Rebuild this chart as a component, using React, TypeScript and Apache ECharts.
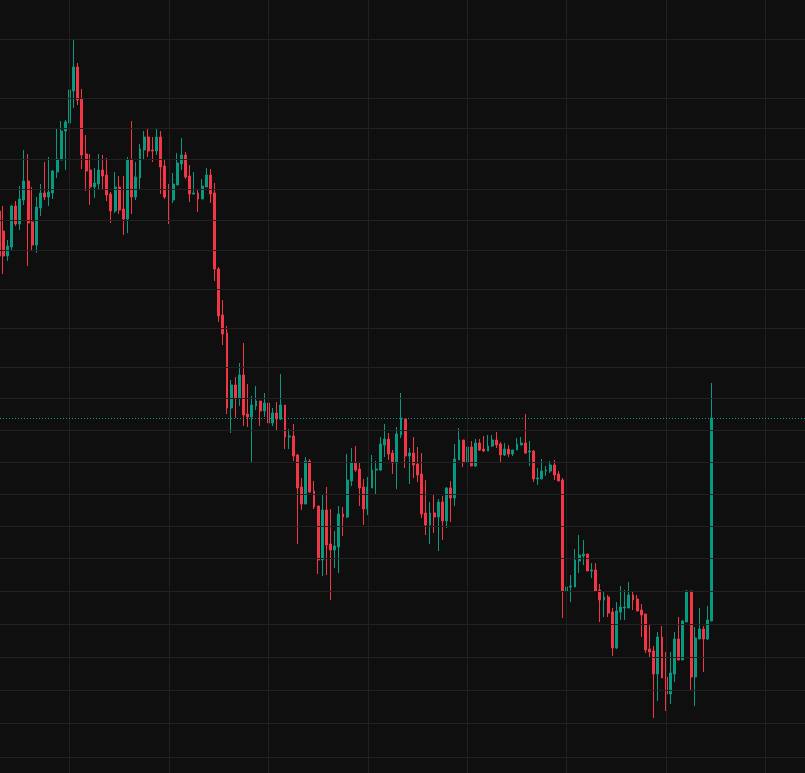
import { useEffect, useRef } from "react";
import * as echarts from "echarts";

// [open, close, low, high]
type Candle = [number, number, number, number];

const upColor = "#089981";
const downColor = "#F23645";

// price levels of the horizontal grid lines
const gridLevels: number[] = [
  76.1, 70.14, 67.18, 64.07, 61.11, 58.01, 54.95, 51.1, 47.21, 43.26, 40.21, 37.0,
  33.8, 30.59, 27.39, 24.18, 20.88, 17.57, 14.27, 10.97, 7.66, 4.26,
];

// bar slots that carry a vertical grid line
const gridColumns: number[] = [17, 41, 65, 89, 113, 137, 161, 185];

const lastPrice = 38.2;
const slotCount = 195;

const candles: Candle[] = [
  [58.9, 54.4, 54.0, 59.5], [56.9, 54.4, 52.6, 59.4], [54.4, 55.4, 53.9, 56.0], [55.3, 59.4, 55.0, 59.5],
  [59.4, 57.6, 57.4, 59.9], [57.6, 60.1, 57.0, 61.4], [60.0, 61.9, 59.5, 65.0], [61.9, 57.7, 53.4, 64.6],
  [57.8, 55.5, 54.9, 61.3], [55.5, 59.3, 54.7, 60.3], [59.2, 60.7, 58.4, 61.6], [60.7, 60.3, 60.0, 63.8],
  [60.3, 60.8, 59.4, 64.3], [60.7, 62.9, 60.1, 63.0], [62.8, 64.1, 62.2, 67.1], [64.0, 66.9, 64.0, 67.9],
  [66.9, 67.8, 63.0, 68.0], [67.7, 71.0, 65.8, 72.5], [70.9, 73.3, 69.2, 76.1], [73.3, 70.0, 69.5, 73.7],
  [70.1, 64.5, 63.1, 71.1], [64.6, 62.9, 60.9, 66.5], [63.0, 61.3, 59.5, 64.6], [61.3, 61.7, 60.2, 63.2],
  [61.6, 63.0, 61.0, 64.6], [63.0, 62.4, 61.1, 64.5], [62.5, 60.5, 59.9, 64.2], [60.6, 58.9, 57.7, 60.8],
  [58.9, 61.3, 58.7, 62.8], [61.3, 59.0, 58.6, 62.4], [59.1, 58.1, 56.5, 62.4], [58.1, 64.0, 56.7, 64.3],
  [64.0, 60.3, 58.6, 67.9], [60.3, 62.3, 60.0, 63.8], [62.2, 65.1, 61.1, 65.6], [65.0, 66.3, 64.0, 66.9],
  [66.3, 64.9, 64.3, 67.2], [65.0, 64.9, 63.8, 66.3], [64.9, 66.3, 64.5, 67.1], [66.3, 63.3, 60.6, 66.9],
  [63.4, 60.3, 60.1, 64.1], [60.4, 60.0, 57.6, 61.6], [60.0, 61.6, 59.7, 62.7], [61.5, 63.7, 61.5, 64.7],
  [63.6, 64.5, 63.0, 66.2], [64.5, 62.3, 62.1, 64.8], [62.4, 60.6, 59.8, 63.5], [60.6, 60.7, 60.6, 62.8],
  [60.7, 60.1, 58.8, 61.1], [60.1, 61.4, 60.1, 62.1], [61.3, 62.5, 61.3, 63.2], [62.5, 60.6, 59.7, 63.1],
  [60.7, 53.1, 51.9, 61.7], [53.1, 48.4, 47.8, 53.3], [48.5, 46.6, 45.5, 50.0], [46.7, 39.2, 38.6, 47.4],
  [39.2, 41.5, 36.7, 42.0], [41.5, 40.2, 38.2, 42.3], [40.2, 42.5, 39.4, 43.7], [42.5, 38.5, 37.4, 45.7],
  [38.6, 38.3, 37.3, 41.6], [38.3, 39.5, 33.8, 40.4], [39.4, 39.9, 39.0, 41.4], [39.9, 38.9, 37.4, 39.9],
  [38.9, 39.7, 38.3, 40.7], [39.7, 37.7, 37.6, 40.3], [37.7, 38.7, 37.4, 39.2], [38.7, 38.1, 37.0, 39.8],
  [38.1, 39.5, 38.0, 42.6], [39.5, 36.3, 35.1, 39.5], [36.3, 36.4, 35.1, 37.1], [36.4, 34.4, 33.9, 37.6],
  [34.5, 31.2, 25.6, 34.6], [31.3, 29.6, 29.0, 32.2], [29.6, 33.9, 29.6, 34.3], [33.9, 30.8, 30.7, 34.1],
  [30.9, 29.3, 29.1, 31.9], [29.4, 24.0, 22.6, 29.4], [24.0, 29.0, 22.4, 30.5], [29.0, 25.5, 22.5, 31.3],
  [25.6, 25.0, 20.0, 29.1], [25.0, 25.4, 23.2, 26.9], [25.3, 28.6, 22.7, 29.4], [28.6, 28.3, 26.4, 29.3],
  [28.3, 32.0, 28.2, 34.6], [31.9, 33.7, 31.4, 35.2], [33.7, 33.0, 32.8, 35.4], [33.1, 31.2, 29.4, 33.8],
  [31.3, 29.1, 27.5, 32.1], [29.1, 31.3, 28.5, 32.3], [31.2, 33.0, 31.2, 34.5], [33.0, 33.1, 30.5, 33.9],
  [33.0, 35.6, 32.9, 36.3], [35.5, 36.1, 34.3, 37.6], [36.1, 34.6, 34.0, 36.7], [34.7, 33.7, 32.6, 35.0],
  [33.7, 36.6, 31.1, 37.3], [36.5, 38.2, 36.2, 40.7], [38.1, 34.4, 33.2, 38.1], [34.4, 34.7, 31.6, 35.2],
  [34.7, 33.5, 32.2, 36.3], [33.6, 32.5, 31.8, 35.3], [32.6, 28.6, 28.2, 34.7], [28.7, 27.5, 26.5, 32.0],
  [27.5, 28.7, 25.6, 29.8], [28.7, 28.3, 26.7, 30.6], [28.3, 29.8, 24.9, 30.1], [29.8, 27.9, 26.0, 30.4],
  [27.9, 31.2, 27.2, 31.3], [31.2, 30.2, 27.8, 31.9], [30.2, 34.1, 29.4, 35.6], [34.0, 36.0, 34.0, 37.2],
  [36.0, 33.8, 33.3, 36.0], [33.8, 35.3, 33.6, 36.4], [35.3, 33.4, 33.4, 35.9], [33.4, 35.7, 33.3, 36.1],
  [35.7, 35.0, 34.9, 36.1], [35.1, 34.9, 34.8, 36.4], [34.9, 35.4, 34.9, 36.5], [35.4, 36.0, 35.3, 36.5],
  [36.0, 35.5, 35.2, 36.8], [35.6, 34.5, 33.8, 35.8], [34.5, 35.1, 34.4, 35.7], [35.1, 34.6, 34.3, 35.5],
  [34.6, 35.0, 34.4, 35.0], [35.0, 35.6, 35.0, 36.2], [35.5, 35.7, 35.5, 36.3], [35.7, 34.7, 34.6, 38.6],
  [34.8, 34.9, 33.4, 35.9], [34.9, 32.1, 31.8, 35.0], [32.1, 32.2, 31.5, 33.2], [32.1, 32.9, 32.1, 34.1],
  [32.9, 33.0, 32.4, 33.4], [32.9, 33.5, 32.7, 33.9], [33.5, 32.5, 32.0, 34.0], [32.6, 31.9, 31.9, 32.9],
  [32.0, 20.9, 18.2, 32.2], [20.9, 21.3, 15.4, 23.0], [21.3, 21.4, 19.8, 22.5], [21.3, 24.0, 21.3, 25.1],
  [23.9, 24.5, 22.7, 26.5], [24.4, 24.6, 23.5, 26.0], [24.6, 22.9, 22.9, 24.6], [22.9, 23.0, 22.2, 23.7],
  [23.0, 20.9, 20.8, 23.7], [21.0, 20.0, 17.8, 21.6], [20.0, 20.3, 18.3, 20.9], [20.3, 18.7, 18.3, 20.5],
  [18.8, 15.2, 14.4, 19.2], [15.2, 18.9, 15.1, 19.8], [18.8, 19.3, 18.0, 21.4], [19.2, 19.3, 18.0, 21.0],
  [19.2, 20.5, 19.2, 21.8], [20.5, 20.0, 19.0, 20.8], [20.1, 18.9, 18.9, 20.5], [19.0, 18.5, 16.3, 19.6],
  [18.6, 15.0, 14.7, 18.6], [15.1, 14.8, 14.2, 17.6], [14.9, 12.6, 8.2, 15.4], [12.6, 16.3, 9.9, 16.8],
  [16.3, 12.2, 12.2, 17.4], [12.3, 10.6, 8.9, 14.8], [10.6, 12.7, 9.6, 14.8], [12.6, 16.1, 11.8, 16.8],
  [16.1, 14.0, 14.0, 18.3], [14.0, 17.9, 14.0, 18.0], [17.8, 20.9, 17.8, 21.0], [20.9, 12.3, 11.0, 20.9],
  [12.3, 16.2, 9.4, 17.3], [16.1, 17.1, 16.1, 19.2], [17.1, 16.1, 12.8, 17.4], [16.1, 18.0, 16.0, 19.4],
  [17.9, 38.2, 17.9, 41.7],
];

const slots = Array.from({ length: slotCount }, (_, i) => String(i));

const App: React.FC = () => {
  const chartRef = useRef<HTMLDivElement>(null);

  useEffect(() => {
    document.body.style.margin = "0";
    document.body.style.background = "#0f0f0f";
    document.body.style.overflow = "hidden";
    const myChart = echarts.init(chartRef.current!, undefined, { renderer: "svg" });

    const gridLine = { color: "#212121", width: 1, type: "solid" as const };

    const option: echarts.EChartsOption = {
      animation: false,
      backgroundColor: "#0f0f0f",
      grid: { left: 0, right: 0, top: 0, bottom: 0 },
      xAxis: {
        type: "category",
        data: slots,
        boundaryGap: true,
        axisLine: { show: false },
        axisTick: { show: false },
        axisLabel: { show: false },
        splitLine: { show: false },
      },
      yAxis: {
        type: "value",
        min: 2.7,
        max: 80,
        axisLine: { show: false },
        axisTick: { show: false },
        axisLabel: { show: false },
        splitLine: { show: false },
      },
      series: [
        {
          type: "line",
          data: [],
          silent: true,
          z: 1,
          markLine: {
            silent: true,
            symbol: "none",
            label: { show: false },
            lineStyle: gridLine,
            data: [
              ...gridLevels.map((v) => ({ yAxis: v })),
              ...gridColumns.map((i) => ({ xAxis: slots[i] })),
            ],
          },
        },
        {
          type: "candlestick",
          data: candles,
          barWidth: 2.4,
          z: 2,
          silent: true,
          itemStyle: {
            color: upColor,
            color0: downColor,
            borderColor: upColor,
            borderColor0: downColor,
            borderWidth: 1,
          },
          markLine: {
            silent: true,
            symbol: "none",
            label: { show: false },
            lineStyle: { color: upColor, width: 1, type: [1, 2] },
            data: [{ yAxis: lastPrice }],
          },
        },
      ],
    };
    myChart.setOption(option);

    return () => {
      myChart.dispose();
    };
  }, []);

  return (
    <div
      ref={chartRef}
      style={{ width: "808px", height: "773px", marginLeft: "-3px" }}
    />
  );
};

export default App;
